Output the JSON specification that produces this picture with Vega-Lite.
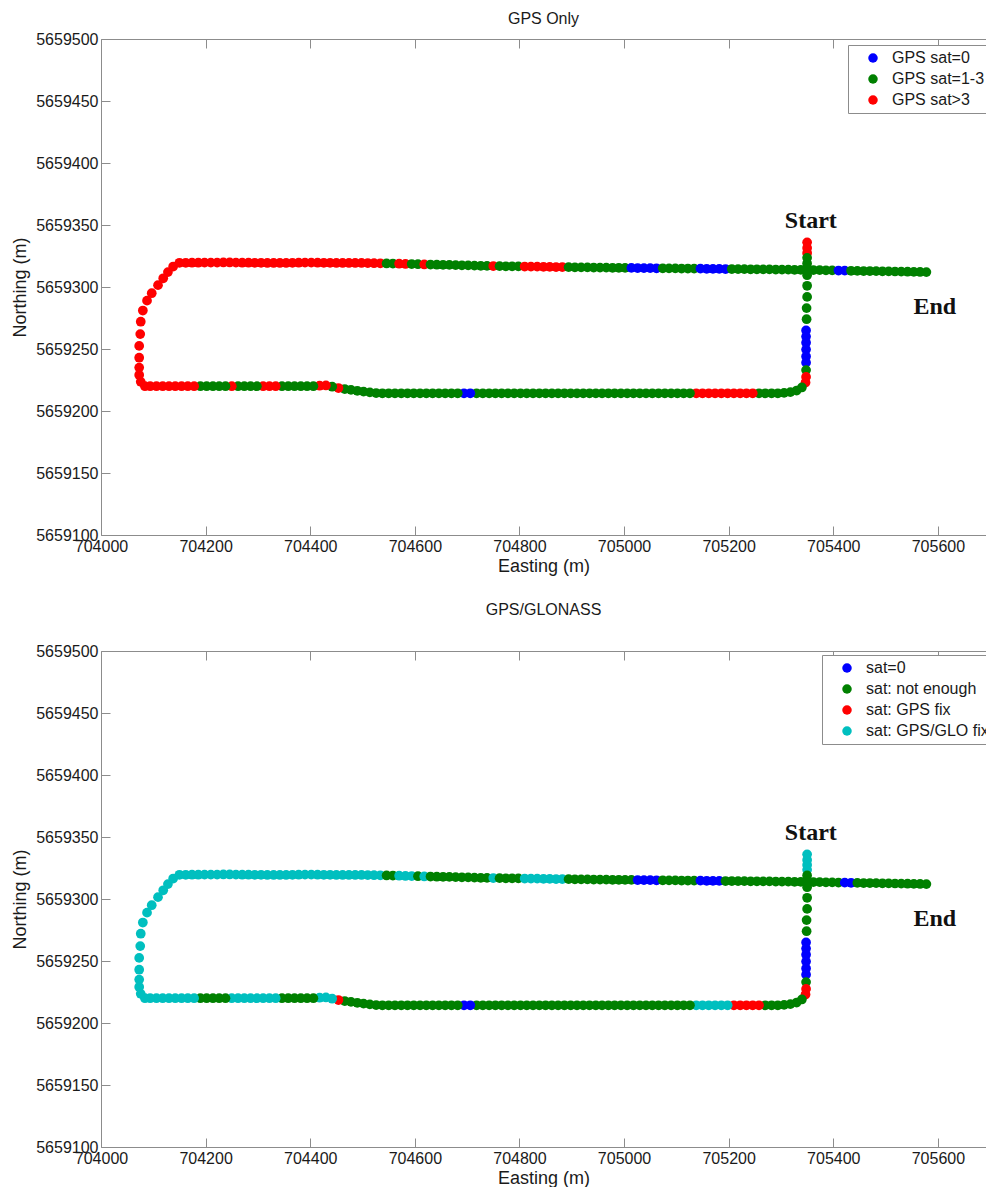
{
  "$schema": "https://vega.github.io/schema/vega-lite/v6.json",
  "background": "white",
  "padding": {"left": 11, "top": 11, "right": 0, "bottom": 0},
  "bounds": "flush",
  "spacing": 116,
  "config": {
    "font": "Liberation Sans",
    "view": {"stroke": null},
    "axis": {
      "labelFont": "Liberation Sans", "labelFontSize": 16, "labelColor": "#1a1a1a",
      "titleFont": "Liberation Sans", "titleFontSize": 18, "titleFontWeight": "normal", "titleColor": "#1a1a1a",
      "domainColor": "#8c8c8c", "tickColor": "#8c8c8c", "tickSize": -9, "labelPadding": 12,
      "grid": false, "labelFlush": false, "labelOverlap": false
    },
    "axisX": {"titlePadding": 3},
    "axisY": {"titlePadding": 6},
    "legend": {
      "strokeColor": "#8c8c8c", "fillColor": "white", "padding": 5, "symbolOffset": 12,
      "labelOffset": 11, "rowPadding": 5, "labelFont": "Liberation Sans", "labelFontSize": 16,
      "labelColor": "#1a1a1a", "symbolSize": 90, "symbolStrokeWidth": 0, "labelLimit": 300
    },
    "title": {"font": "Liberation Sans", "fontSize": 16, "fontWeight": "normal", "color": "#1a1a1a"}
  },
  "datasets": {
    "labels": [
      {"e": 705357, "n": 5659353, "label": "Start"},
      {"e": 705594, "n": 5659284, "label": "End"}
    ],
    "track": [
      {"e":705350,"n":5659336,"gps":"GPS sat>3","glo":"sat: GPS/GLO fix"},
      {"e":705350,"n":5659331.5,"gps":"GPS sat>3","glo":"sat: GPS/GLO fix"},
      {"e":705350,"n":5659327.5,"gps":"GPS sat>3","glo":"sat: GPS/GLO fix"},
      {"e":705350,"n":5659323.5,"gps":"GPS sat=1-3","glo":"sat: GPS/GLO fix"},
      {"e":705350,"n":5659319,"gps":"GPS sat=1-3","glo":"sat: not enough"},
      {"e":705350,"n":5659309.5,"gps":"GPS sat=1-3","glo":"sat: not enough"},
      {"e":705350,"n":5659301,"gps":"GPS sat=1-3","glo":"sat: not enough"},
      {"e":705350,"n":5659292,"gps":"GPS sat=1-3","glo":"sat: not enough"},
      {"e":705349,"n":5659283,"gps":"GPS sat=1-3","glo":"sat: not enough"},
      {"e":705349,"n":5659274,"gps":"GPS sat=1-3","glo":"sat: not enough"},
      {"e":705348,"n":5659265,"gps":"GPS sat=0","glo":"sat=0"},
      {"e":705348,"n":5659260,"gps":"GPS sat=0","glo":"sat=0"},
      {"e":705348,"n":5659255,"gps":"GPS sat=0","glo":"sat=0"},
      {"e":705348,"n":5659249.5,"gps":"GPS sat=0","glo":"sat=0"},
      {"e":705348,"n":5659244,"gps":"GPS sat=0","glo":"sat=0"},
      {"e":705348,"n":5659239,"gps":"GPS sat=0","glo":"sat=0"},
      {"e":705348,"n":5659233,"gps":"GPS sat=1-3","glo":"sat: not enough"},
      {"e":705348,"n":5659227.5,"gps":"GPS sat>3","glo":"sat: GPS fix"},
      {"e":705347,"n":5659223,"gps":"GPS sat>3","glo":"sat: GPS fix"},
      {"e":705340,"n":5659219,"gps":"GPS sat=1-3","glo":"sat: not enough"},
      {"e":705330,"n":5659216.5,"gps":"GPS sat=1-3","glo":"sat: not enough"},
      {"e":705318,"n":5659215.2,"gps":"GPS sat=1-3","glo":"sat: not enough"},
      {"e":705306,"n":5659214.6,"gps":"GPS sat=1-3","glo":"sat: not enough"},
      {"e":705294,"n":5659214.3,"gps":"GPS sat=1-3","glo":"sat: not enough"},
      {"e":705282,"n":5659214.3,"gps":"GPS sat=1-3","glo":"sat: not enough"},
      {"e":705270,"n":5659214.3,"gps":"GPS sat=1-3","glo":"sat: not enough"},
      {"e":705258,"n":5659214.3,"gps":"GPS sat=1-3","glo":"sat: GPS fix"},
      {"e":705246,"n":5659214.3,"gps":"GPS sat>3","glo":"sat: GPS fix"},
      {"e":705234,"n":5659214.3,"gps":"GPS sat>3","glo":"sat: GPS fix"},
      {"e":705222,"n":5659214.3,"gps":"GPS sat>3","glo":"sat: GPS fix"},
      {"e":705210,"n":5659214.3,"gps":"GPS sat>3","glo":"sat: GPS fix"},
      {"e":705198,"n":5659214.3,"gps":"GPS sat>3","glo":"sat: GPS/GLO fix"},
      {"e":705186,"n":5659214.3,"gps":"GPS sat>3","glo":"sat: GPS/GLO fix"},
      {"e":705174,"n":5659214.3,"gps":"GPS sat>3","glo":"sat: GPS/GLO fix"},
      {"e":705162,"n":5659214.3,"gps":"GPS sat>3","glo":"sat: GPS/GLO fix"},
      {"e":705150,"n":5659214.3,"gps":"GPS sat>3","glo":"sat: GPS/GLO fix"},
      {"e":705138,"n":5659214.3,"gps":"GPS sat>3","glo":"sat: GPS/GLO fix"},
      {"e":705126,"n":5659214.3,"gps":"GPS sat=1-3","glo":"sat: not enough"},
      {"e":705114,"n":5659214.3,"gps":"GPS sat=1-3","glo":"sat: not enough"},
      {"e":705102,"n":5659214.3,"gps":"GPS sat=1-3","glo":"sat: not enough"},
      {"e":705090,"n":5659214.3,"gps":"GPS sat=1-3","glo":"sat: not enough"},
      {"e":705078,"n":5659214.3,"gps":"GPS sat=1-3","glo":"sat: not enough"},
      {"e":705066,"n":5659214.3,"gps":"GPS sat=1-3","glo":"sat: not enough"},
      {"e":705054,"n":5659214.3,"gps":"GPS sat=1-3","glo":"sat: not enough"},
      {"e":705042,"n":5659214.3,"gps":"GPS sat=1-3","glo":"sat: not enough"},
      {"e":705030,"n":5659214.3,"gps":"GPS sat=1-3","glo":"sat: not enough"},
      {"e":705018,"n":5659214.3,"gps":"GPS sat=1-3","glo":"sat: not enough"},
      {"e":705006,"n":5659214.3,"gps":"GPS sat=1-3","glo":"sat: not enough"},
      {"e":704994,"n":5659214.3,"gps":"GPS sat=1-3","glo":"sat: not enough"},
      {"e":704982,"n":5659214.3,"gps":"GPS sat=1-3","glo":"sat: not enough"},
      {"e":704970,"n":5659214.3,"gps":"GPS sat=1-3","glo":"sat: not enough"},
      {"e":704958,"n":5659214.3,"gps":"GPS sat=1-3","glo":"sat: not enough"},
      {"e":704946,"n":5659214.3,"gps":"GPS sat=1-3","glo":"sat: not enough"},
      {"e":704934,"n":5659214.3,"gps":"GPS sat=1-3","glo":"sat: not enough"},
      {"e":704922,"n":5659214.3,"gps":"GPS sat=1-3","glo":"sat: not enough"},
      {"e":704910,"n":5659214.3,"gps":"GPS sat=1-3","glo":"sat: not enough"},
      {"e":704898,"n":5659214.3,"gps":"GPS sat=1-3","glo":"sat: not enough"},
      {"e":704886,"n":5659214.3,"gps":"GPS sat=1-3","glo":"sat: not enough"},
      {"e":704874,"n":5659214.3,"gps":"GPS sat=1-3","glo":"sat: not enough"},
      {"e":704862,"n":5659214.3,"gps":"GPS sat=1-3","glo":"sat: not enough"},
      {"e":704850,"n":5659214.3,"gps":"GPS sat=1-3","glo":"sat: not enough"},
      {"e":704838,"n":5659214.3,"gps":"GPS sat=1-3","glo":"sat: not enough"},
      {"e":704826,"n":5659214.3,"gps":"GPS sat=1-3","glo":"sat: not enough"},
      {"e":704814,"n":5659214.3,"gps":"GPS sat=1-3","glo":"sat: not enough"},
      {"e":704802,"n":5659214.3,"gps":"GPS sat=1-3","glo":"sat: not enough"},
      {"e":704790,"n":5659214.3,"gps":"GPS sat=1-3","glo":"sat: not enough"},
      {"e":704778,"n":5659214.3,"gps":"GPS sat=1-3","glo":"sat: not enough"},
      {"e":704766,"n":5659214.3,"gps":"GPS sat=1-3","glo":"sat: not enough"},
      {"e":704754,"n":5659214.3,"gps":"GPS sat=1-3","glo":"sat: not enough"},
      {"e":704742,"n":5659214.3,"gps":"GPS sat=1-3","glo":"sat: not enough"},
      {"e":704730,"n":5659214.3,"gps":"GPS sat=1-3","glo":"sat: not enough"},
      {"e":704718,"n":5659214.3,"gps":"GPS sat=1-3","glo":"sat: not enough"},
      {"e":704706,"n":5659214.3,"gps":"GPS sat=0","glo":"sat=0"},
      {"e":704694,"n":5659214.3,"gps":"GPS sat=0","glo":"sat=0"},
      {"e":704682,"n":5659214.3,"gps":"GPS sat=1-3","glo":"sat: not enough"},
      {"e":704670,"n":5659214.3,"gps":"GPS sat=1-3","glo":"sat: not enough"},
      {"e":704658,"n":5659214.3,"gps":"GPS sat=1-3","glo":"sat: not enough"},
      {"e":704646,"n":5659214.3,"gps":"GPS sat=1-3","glo":"sat: not enough"},
      {"e":704634,"n":5659214.3,"gps":"GPS sat=1-3","glo":"sat: not enough"},
      {"e":704622,"n":5659214.3,"gps":"GPS sat=1-3","glo":"sat: not enough"},
      {"e":704610,"n":5659214.3,"gps":"GPS sat=1-3","glo":"sat: not enough"},
      {"e":704598,"n":5659214.3,"gps":"GPS sat=1-3","glo":"sat: not enough"},
      {"e":704586,"n":5659214.3,"gps":"GPS sat=1-3","glo":"sat: not enough"},
      {"e":704574,"n":5659214.3,"gps":"GPS sat=1-3","glo":"sat: not enough"},
      {"e":704562,"n":5659214.3,"gps":"GPS sat=1-3","glo":"sat: not enough"},
      {"e":704550,"n":5659214.3,"gps":"GPS sat=1-3","glo":"sat: not enough"},
      {"e":704538,"n":5659214.3,"gps":"GPS sat=1-3","glo":"sat: not enough"},
      {"e":704526,"n":5659214.5,"gps":"GPS sat=1-3","glo":"sat: not enough"},
      {"e":704514,"n":5659215,"gps":"GPS sat=1-3","glo":"sat: not enough"},
      {"e":704502,"n":5659215.6,"gps":"GPS sat=1-3","glo":"sat: not enough"},
      {"e":704490,"n":5659216.3,"gps":"GPS sat=1-3","glo":"sat: not enough"},
      {"e":704478,"n":5659217,"gps":"GPS sat=1-3","glo":"sat: not enough"},
      {"e":704466,"n":5659217.7,"gps":"GPS sat=1-3","glo":"sat: not enough"},
      {"e":704454,"n":5659218.5,"gps":"GPS sat>3","glo":"sat: GPS fix"},
      {"e":704442,"n":5659219.6,"gps":"GPS sat=1-3","glo":"sat: GPS/GLO fix"},
      {"e":704430,"n":5659220.6,"gps":"GPS sat>3","glo":"sat: GPS/GLO fix"},
      {"e":704418,"n":5659220.4,"gps":"GPS sat>3","glo":"sat: GPS/GLO fix"},
      {"e":704406,"n":5659220,"gps":"GPS sat=1-3","glo":"sat: not enough"},
      {"e":704394,"n":5659220,"gps":"GPS sat=1-3","glo":"sat: not enough"},
      {"e":704382,"n":5659220,"gps":"GPS sat=1-3","glo":"sat: not enough"},
      {"e":704370,"n":5659220,"gps":"GPS sat=1-3","glo":"sat: not enough"},
      {"e":704358,"n":5659220,"gps":"GPS sat=1-3","glo":"sat: not enough"},
      {"e":704346,"n":5659220,"gps":"GPS sat=1-3","glo":"sat: not enough"},
      {"e":704334,"n":5659220,"gps":"GPS sat>3","glo":"sat: GPS/GLO fix"},
      {"e":704322,"n":5659220,"gps":"GPS sat>3","glo":"sat: GPS/GLO fix"},
      {"e":704310,"n":5659220,"gps":"GPS sat>3","glo":"sat: GPS/GLO fix"},
      {"e":704298,"n":5659220,"gps":"GPS sat=1-3","glo":"sat: GPS/GLO fix"},
      {"e":704286,"n":5659220,"gps":"GPS sat=1-3","glo":"sat: GPS/GLO fix"},
      {"e":704274,"n":5659220,"gps":"GPS sat=1-3","glo":"sat: GPS/GLO fix"},
      {"e":704262,"n":5659220,"gps":"GPS sat=1-3","glo":"sat: GPS/GLO fix"},
      {"e":704250,"n":5659220,"gps":"GPS sat>3","glo":"sat: GPS/GLO fix"},
      {"e":704238,"n":5659220,"gps":"GPS sat=1-3","glo":"sat: not enough"},
      {"e":704226,"n":5659220,"gps":"GPS sat=1-3","glo":"sat: not enough"},
      {"e":704214,"n":5659220,"gps":"GPS sat=1-3","glo":"sat: not enough"},
      {"e":704202,"n":5659220,"gps":"GPS sat=1-3","glo":"sat: not enough"},
      {"e":704190,"n":5659220,"gps":"GPS sat=1-3","glo":"sat: not enough"},
      {"e":704178,"n":5659220,"gps":"GPS sat>3","glo":"sat: GPS/GLO fix"},
      {"e":704166,"n":5659220,"gps":"GPS sat>3","glo":"sat: GPS/GLO fix"},
      {"e":704154,"n":5659220,"gps":"GPS sat>3","glo":"sat: GPS/GLO fix"},
      {"e":704142,"n":5659220,"gps":"GPS sat>3","glo":"sat: GPS/GLO fix"},
      {"e":704130,"n":5659220,"gps":"GPS sat>3","glo":"sat: GPS/GLO fix"},
      {"e":704118,"n":5659220,"gps":"GPS sat>3","glo":"sat: GPS/GLO fix"},
      {"e":704106,"n":5659220,"gps":"GPS sat>3","glo":"sat: GPS/GLO fix"},
      {"e":704094,"n":5659220,"gps":"GPS sat>3","glo":"sat: GPS/GLO fix"},
      {"e":704084,"n":5659220,"gps":"GPS sat>3","glo":"sat: GPS/GLO fix"},
      {"e":704076,"n":5659223.5,"gps":"GPS sat>3","glo":"sat: GPS/GLO fix"},
      {"e":704073,"n":5659229,"gps":"GPS sat>3","glo":"sat: GPS/GLO fix"},
      {"e":704073,"n":5659235,"gps":"GPS sat>3","glo":"sat: GPS/GLO fix"},
      {"e":704073,"n":5659243,"gps":"GPS sat>3","glo":"sat: GPS/GLO fix"},
      {"e":704073,"n":5659252.5,"gps":"GPS sat>3","glo":"sat: GPS/GLO fix"},
      {"e":704075,"n":5659262,"gps":"GPS sat>3","glo":"sat: GPS/GLO fix"},
      {"e":704076,"n":5659272,"gps":"GPS sat>3","glo":"sat: GPS/GLO fix"},
      {"e":704080,"n":5659281,"gps":"GPS sat>3","glo":"sat: GPS/GLO fix"},
      {"e":704088,"n":5659289,"gps":"GPS sat>3","glo":"sat: GPS/GLO fix"},
      {"e":704097,"n":5659295,"gps":"GPS sat>3","glo":"sat: GPS/GLO fix"},
      {"e":704109,"n":5659301.5,"gps":"GPS sat>3","glo":"sat: GPS/GLO fix"},
      {"e":704119,"n":5659307,"gps":"GPS sat>3","glo":"sat: GPS/GLO fix"},
      {"e":704128,"n":5659312,"gps":"GPS sat>3","glo":"sat: GPS/GLO fix"},
      {"e":704138,"n":5659316.5,"gps":"GPS sat>3","glo":"sat: GPS/GLO fix"},
      {"e":704150,"n":5659319.5,"gps":"GPS sat>3","glo":"sat: GPS/GLO fix"},
      {"e":704162,"n":5659319.5,"gps":"GPS sat>3","glo":"sat: GPS/GLO fix"},
      {"e":704174,"n":5659319.6,"gps":"GPS sat>3","glo":"sat: GPS/GLO fix"},
      {"e":704186,"n":5659319.6,"gps":"GPS sat>3","glo":"sat: GPS/GLO fix"},
      {"e":704198,"n":5659319.7,"gps":"GPS sat>3","glo":"sat: GPS/GLO fix"},
      {"e":704210,"n":5659319.7,"gps":"GPS sat>3","glo":"sat: GPS/GLO fix"},
      {"e":704222,"n":5659319.7,"gps":"GPS sat>3","glo":"sat: GPS/GLO fix"},
      {"e":704234,"n":5659319.8,"gps":"GPS sat>3","glo":"sat: GPS/GLO fix"},
      {"e":704246,"n":5659319.8,"gps":"GPS sat>3","glo":"sat: GPS/GLO fix"},
      {"e":704258,"n":5659319.7,"gps":"GPS sat>3","glo":"sat: GPS/GLO fix"},
      {"e":704270,"n":5659319.6,"gps":"GPS sat>3","glo":"sat: GPS/GLO fix"},
      {"e":704282,"n":5659319.6,"gps":"GPS sat>3","glo":"sat: GPS/GLO fix"},
      {"e":704294,"n":5659319.5,"gps":"GPS sat>3","glo":"sat: GPS/GLO fix"},
      {"e":704306,"n":5659319.5,"gps":"GPS sat>3","glo":"sat: GPS/GLO fix"},
      {"e":704318,"n":5659319.4,"gps":"GPS sat>3","glo":"sat: GPS/GLO fix"},
      {"e":704330,"n":5659319.4,"gps":"GPS sat>3","glo":"sat: GPS/GLO fix"},
      {"e":704342,"n":5659319.4,"gps":"GPS sat>3","glo":"sat: GPS/GLO fix"},
      {"e":704354,"n":5659319.4,"gps":"GPS sat>3","glo":"sat: GPS/GLO fix"},
      {"e":704366,"n":5659319.5,"gps":"GPS sat>3","glo":"sat: GPS/GLO fix"},
      {"e":704378,"n":5659319.6,"gps":"GPS sat>3","glo":"sat: GPS/GLO fix"},
      {"e":704390,"n":5659319.7,"gps":"GPS sat>3","glo":"sat: GPS/GLO fix"},
      {"e":704402,"n":5659319.7,"gps":"GPS sat>3","glo":"sat: GPS/GLO fix"},
      {"e":704414,"n":5659319.6,"gps":"GPS sat>3","glo":"sat: GPS/GLO fix"},
      {"e":704426,"n":5659319.5,"gps":"GPS sat>3","glo":"sat: GPS/GLO fix"},
      {"e":704438,"n":5659319.5,"gps":"GPS sat>3","glo":"sat: GPS/GLO fix"},
      {"e":704450,"n":5659319.4,"gps":"GPS sat>3","glo":"sat: GPS/GLO fix"},
      {"e":704462,"n":5659319.4,"gps":"GPS sat>3","glo":"sat: GPS/GLO fix"},
      {"e":704474,"n":5659319.4,"gps":"GPS sat>3","glo":"sat: GPS/GLO fix"},
      {"e":704486,"n":5659319.4,"gps":"GPS sat>3","glo":"sat: GPS/GLO fix"},
      {"e":704498,"n":5659319.4,"gps":"GPS sat>3","glo":"sat: GPS/GLO fix"},
      {"e":704510,"n":5659319.3,"gps":"GPS sat>3","glo":"sat: GPS/GLO fix"},
      {"e":704522,"n":5659319.2,"gps":"GPS sat>3","glo":"sat: GPS/GLO fix"},
      {"e":704534,"n":5659319.1,"gps":"GPS sat>3","glo":"sat: GPS/GLO fix"},
      {"e":704546,"n":5659319,"gps":"GPS sat=1-3","glo":"sat: not enough"},
      {"e":704558,"n":5659318.9,"gps":"GPS sat=1-3","glo":"sat: not enough"},
      {"e":704570,"n":5659318.8,"gps":"GPS sat>3","glo":"sat: GPS/GLO fix"},
      {"e":704582,"n":5659318.6,"gps":"GPS sat>3","glo":"sat: GPS/GLO fix"},
      {"e":704594,"n":5659318.5,"gps":"GPS sat=1-3","glo":"sat: GPS/GLO fix"},
      {"e":704606,"n":5659318.4,"gps":"GPS sat=1-3","glo":"sat: not enough"},
      {"e":704618,"n":5659318.2,"gps":"GPS sat>3","glo":"sat: GPS/GLO fix"},
      {"e":704630,"n":5659318.1,"gps":"GPS sat=1-3","glo":"sat: not enough"},
      {"e":704642,"n":5659318,"gps":"GPS sat=1-3","glo":"sat: not enough"},
      {"e":704654,"n":5659317.9,"gps":"GPS sat=1-3","glo":"sat: not enough"},
      {"e":704666,"n":5659317.8,"gps":"GPS sat=1-3","glo":"sat: not enough"},
      {"e":704678,"n":5659317.6,"gps":"GPS sat=1-3","glo":"sat: not enough"},
      {"e":704690,"n":5659317.5,"gps":"GPS sat=1-3","glo":"sat: not enough"},
      {"e":704702,"n":5659317.4,"gps":"GPS sat=1-3","glo":"sat: not enough"},
      {"e":704714,"n":5659317.2,"gps":"GPS sat=1-3","glo":"sat: not enough"},
      {"e":704726,"n":5659317.1,"gps":"GPS sat=1-3","glo":"sat: not enough"},
      {"e":704738,"n":5659317,"gps":"GPS sat=1-3","glo":"sat: not enough"},
      {"e":704750,"n":5659316.9,"gps":"GPS sat>3","glo":"sat: GPS/GLO fix"},
      {"e":704762,"n":5659316.8,"gps":"GPS sat=1-3","glo":"sat: not enough"},
      {"e":704774,"n":5659316.7,"gps":"GPS sat=1-3","glo":"sat: not enough"},
      {"e":704786,"n":5659316.7,"gps":"GPS sat=1-3","glo":"sat: not enough"},
      {"e":704798,"n":5659316.6,"gps":"GPS sat=1-3","glo":"sat: not enough"},
      {"e":704810,"n":5659316.5,"gps":"GPS sat>3","glo":"sat: GPS/GLO fix"},
      {"e":704822,"n":5659316.4,"gps":"GPS sat>3","glo":"sat: GPS/GLO fix"},
      {"e":704834,"n":5659316.4,"gps":"GPS sat>3","glo":"sat: GPS/GLO fix"},
      {"e":704846,"n":5659316.3,"gps":"GPS sat>3","glo":"sat: GPS/GLO fix"},
      {"e":704858,"n":5659316.2,"gps":"GPS sat>3","glo":"sat: GPS/GLO fix"},
      {"e":704870,"n":5659316.1,"gps":"GPS sat>3","glo":"sat: GPS/GLO fix"},
      {"e":704882,"n":5659316.1,"gps":"GPS sat>3","glo":"sat: GPS/GLO fix"},
      {"e":704894,"n":5659316,"gps":"GPS sat=1-3","glo":"sat: not enough"},
      {"e":704906,"n":5659315.9,"gps":"GPS sat=1-3","glo":"sat: not enough"},
      {"e":704918,"n":5659315.8,"gps":"GPS sat=1-3","glo":"sat: not enough"},
      {"e":704930,"n":5659315.8,"gps":"GPS sat=1-3","glo":"sat: not enough"},
      {"e":704942,"n":5659315.7,"gps":"GPS sat=1-3","glo":"sat: not enough"},
      {"e":704954,"n":5659315.6,"gps":"GPS sat=1-3","glo":"sat: not enough"},
      {"e":704966,"n":5659315.6,"gps":"GPS sat=1-3","glo":"sat: not enough"},
      {"e":704978,"n":5659315.5,"gps":"GPS sat=1-3","glo":"sat: not enough"},
      {"e":704990,"n":5659315.5,"gps":"GPS sat=1-3","glo":"sat: not enough"},
      {"e":705002,"n":5659315.4,"gps":"GPS sat=1-3","glo":"sat: not enough"},
      {"e":705014,"n":5659315.4,"gps":"GPS sat=0","glo":"sat: not enough"},
      {"e":705026,"n":5659315.3,"gps":"GPS sat=0","glo":"sat=0"},
      {"e":705038,"n":5659315.2,"gps":"GPS sat=0","glo":"sat=0"},
      {"e":705050,"n":5659315.2,"gps":"GPS sat=0","glo":"sat=0"},
      {"e":705062,"n":5659315.1,"gps":"GPS sat=0","glo":"sat=0"},
      {"e":705074,"n":5659315.1,"gps":"GPS sat=1-3","glo":"sat: not enough"},
      {"e":705086,"n":5659315,"gps":"GPS sat=1-3","glo":"sat: not enough"},
      {"e":705098,"n":5659315,"gps":"GPS sat=1-3","glo":"sat: not enough"},
      {"e":705110,"n":5659314.9,"gps":"GPS sat=1-3","glo":"sat: not enough"},
      {"e":705122,"n":5659314.9,"gps":"GPS sat=1-3","glo":"sat: not enough"},
      {"e":705134,"n":5659314.8,"gps":"GPS sat=1-3","glo":"sat: not enough"},
      {"e":705146,"n":5659314.8,"gps":"GPS sat=0","glo":"sat=0"},
      {"e":705158,"n":5659314.7,"gps":"GPS sat=0","glo":"sat=0"},
      {"e":705170,"n":5659314.6,"gps":"GPS sat=0","glo":"sat=0"},
      {"e":705182,"n":5659314.6,"gps":"GPS sat=0","glo":"sat=0"},
      {"e":705194,"n":5659314.5,"gps":"GPS sat=0","glo":"sat: not enough"},
      {"e":705206,"n":5659314.5,"gps":"GPS sat=1-3","glo":"sat: not enough"},
      {"e":705218,"n":5659314.4,"gps":"GPS sat=1-3","glo":"sat: not enough"},
      {"e":705230,"n":5659314.4,"gps":"GPS sat=1-3","glo":"sat: not enough"},
      {"e":705242,"n":5659314.3,"gps":"GPS sat=1-3","glo":"sat: not enough"},
      {"e":705254,"n":5659314.3,"gps":"GPS sat=1-3","glo":"sat: not enough"},
      {"e":705266,"n":5659314.2,"gps":"GPS sat=1-3","glo":"sat: not enough"},
      {"e":705278,"n":5659314.2,"gps":"GPS sat=1-3","glo":"sat: not enough"},
      {"e":705290,"n":5659314.1,"gps":"GPS sat=1-3","glo":"sat: not enough"},
      {"e":705302,"n":5659314,"gps":"GPS sat=1-3","glo":"sat: not enough"},
      {"e":705314,"n":5659314,"gps":"GPS sat=1-3","glo":"sat: not enough"},
      {"e":705326,"n":5659313.9,"gps":"GPS sat=1-3","glo":"sat: not enough"},
      {"e":705338,"n":5659313.9,"gps":"GPS sat=1-3","glo":"sat: not enough"},
      {"e":705350,"n":5659313.8,"gps":"GPS sat=1-3","glo":"sat: not enough"},
      {"e":705362,"n":5659313.7,"gps":"GPS sat=1-3","glo":"sat: not enough"},
      {"e":705374,"n":5659313.6,"gps":"GPS sat=1-3","glo":"sat: not enough"},
      {"e":705386,"n":5659313.5,"gps":"GPS sat=1-3","glo":"sat: not enough"},
      {"e":705398,"n":5659313.4,"gps":"GPS sat=1-3","glo":"sat: not enough"},
      {"e":705410,"n":5659313.3,"gps":"GPS sat=0","glo":"sat: not enough"},
      {"e":705422,"n":5659313.2,"gps":"GPS sat=0","glo":"sat=0"},
      {"e":705434,"n":5659313.1,"gps":"GPS sat=1-3","glo":"sat=0"},
      {"e":705446,"n":5659313,"gps":"GPS sat=1-3","glo":"sat: not enough"},
      {"e":705458,"n":5659312.9,"gps":"GPS sat=1-3","glo":"sat: not enough"},
      {"e":705470,"n":5659312.9,"gps":"GPS sat=1-3","glo":"sat: not enough"},
      {"e":705482,"n":5659312.8,"gps":"GPS sat=1-3","glo":"sat: not enough"},
      {"e":705494,"n":5659312.7,"gps":"GPS sat=1-3","glo":"sat: not enough"},
      {"e":705506,"n":5659312.6,"gps":"GPS sat=1-3","glo":"sat: not enough"},
      {"e":705518,"n":5659312.5,"gps":"GPS sat=1-3","glo":"sat: not enough"},
      {"e":705530,"n":5659312.4,"gps":"GPS sat=1-3","glo":"sat: not enough"},
      {"e":705542,"n":5659312.3,"gps":"GPS sat=1-3","glo":"sat: not enough"},
      {"e":705554,"n":5659312.2,"gps":"GPS sat=1-3","glo":"sat: not enough"},
      {"e":705566,"n":5659312.1,"gps":"GPS sat=1-3","glo":"sat: not enough"},
      {"e":705578,"n":5659312,"gps":"GPS sat=1-3","glo":"sat: not enough"}
    ]
  },
  "vconcat": [
    {
      "width": 885,
      "height": 496,
      "title": {"text": "GPS Only", "offset": 4},
      "layer": [
        {
          "data": {"name": "track"},
          "mark": {"type": "circle", "size": 95, "opacity": 1},
          "encoding": {
            "x": {"field": "e", "type": "quantitative",
                  "scale": {"domain": [704000, 705692], "nice": false, "zero": false},
                  "axis": {"orient": "bottom", "values": [704000, 704200, 704400, 704600, 704800, 705000, 705200, 705400, 705600], "format": "d", "title": "Easting (m)"}},
            "y": {"field": "n", "type": "quantitative",
                  "scale": {"domain": [5659100, 5659500], "nice": false, "zero": false},
                  "axis": {"values": [5659100, 5659150, 5659200, 5659250, 5659300, 5659350, 5659400, 5659450, 5659500], "format": "d", "title": "Northing (m)"}},
            "color": {"field": "gps", "type": "nominal",
                      "scale": {"domain": ["GPS sat=0", "GPS sat=1-3", "GPS sat>3"], "range": ["#0000ff", "#008000", "#ff0000"]},
                      "legend": {"title": null, "orient": "none", "legendX": 747, "legendY": 6}}
          }
        },
        {
          "data": {"name": "labels"},
          "mark": {"type": "text", "font": "Liberation Serif", "fontWeight": "bold", "fontSize": 24, "baseline": "middle", "align": "center", "color": "#111111"},
          "encoding": {
            "x": {"field": "e", "type": "quantitative",
                  "axis": {"orient": "top", "labels": false, "title": null, "values": [704000, 704200, 704400, 704600, 704800, 705000, 705200, 705400, 705600]}},
            "y": {"field": "n", "type": "quantitative",
                  "axis": {"values": [5659100, 5659150, 5659200, 5659250, 5659300, 5659350, 5659400, 5659450, 5659500], "format": "d", "title": "Northing (m)"}},
            "text": {"field": "label"}
          }
        }
      ],
      "resolve": {"axis": {"x": "independent"}}
    },
    {
      "width": 885,
      "height": 496,
      "title": {"text": "GPS/GLONASS", "offset": 25},
      "layer": [
        {
          "data": {"name": "track"},
          "mark": {"type": "circle", "size": 95, "opacity": 1},
          "encoding": {
            "x": {"field": "e", "type": "quantitative",
                  "scale": {"domain": [704000, 705692], "nice": false, "zero": false},
                  "axis": {"orient": "bottom", "values": [704000, 704200, 704400, 704600, 704800, 705000, 705200, 705400, 705600], "format": "d", "title": "Easting (m)"}},
            "y": {"field": "n", "type": "quantitative",
                  "scale": {"domain": [5659100, 5659500], "nice": false, "zero": false},
                  "axis": {"values": [5659100, 5659150, 5659200, 5659250, 5659300, 5659350, 5659400, 5659450, 5659500], "format": "d", "title": "Northing (m)"}},
            "color": {"field": "glo", "type": "nominal",
                      "scale": {"domain": ["sat=0", "sat: not enough", "sat: GPS fix", "sat: GPS/GLO fix"], "range": ["#0000ff", "#008000", "#ff0000", "#00bfbf"]},
                      "legend": {"title": null, "orient": "none", "legendX": 721, "legendY": 4}}
          }
        },
        {
          "data": {"name": "labels"},
          "mark": {"type": "text", "font": "Liberation Serif", "fontWeight": "bold", "fontSize": 24, "baseline": "middle", "align": "center", "color": "#111111"},
          "encoding": {
            "x": {"field": "e", "type": "quantitative",
                  "axis": {"orient": "top", "labels": false, "title": null, "values": [704000, 704200, 704400, 704600, 704800, 705000, 705200, 705400, 705600]}},
            "y": {"field": "n", "type": "quantitative",
                  "axis": {"values": [5659100, 5659150, 5659200, 5659250, 5659300, 5659350, 5659400, 5659450, 5659500], "format": "d", "title": "Northing (m)"}},
            "text": {"field": "label"}
          }
        }
      ],
      "resolve": {"axis": {"x": "independent"}}
    }
  ],
  "resolve": {"scale": {"color": "independent"}, "legend": {"color": "independent"}}
}
